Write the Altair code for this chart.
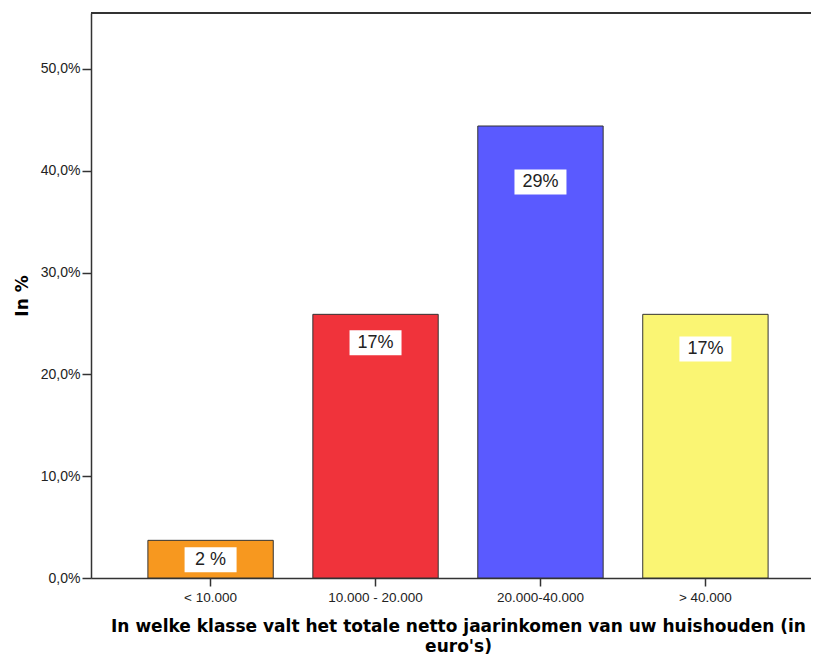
import altair as alt
import pandas as pd

categories = ["< 10.000", "10.000 - 20.000", "20.000-40.000", "> 40.000"]
values = [3.7, 25.9, 44.4, 25.9]
labels = ["2 %", "17%", "29%", "17%"]
label_y = [1.8, 23.1, 38.9, 22.5]
colors = ["#F7981F", "#F0333B", "#5A5AFF", "#FAF573"]
y_ticks = [0, 10, 20, 30, 40, 50]

df = pd.DataFrame({"cat": categories, "value": values, "label": labels, "label_y": label_y})

x_enc = alt.X(
    "cat:N",
    sort=categories,
    scale=alt.Scale(paddingInner=0.24, paddingOuter=0.345, range=[0, 734]),
    axis=alt.Axis(
        title=["In welke klasse valt het totale netto jaarinkomen van uw huishouden (in", "euro's)"],
        titleFont="DejaVu Sans", titleFontSize=17, titleFontWeight="bold", titleColor="#000",
        titleLineHeight=20, titlePadding=15, titleX=367,
        labelFont="Liberation Sans", labelFontSize=13.5, labelColor="#222", labelAngle=0,
        labelPadding=4, tickSize=8, tickColor="#333", tickWidth=1.5,
        domainColor="#333", domainWidth=1.5,
    ),
)
y_axis = alt.Axis(
    title="In %", titleFont="DejaVu Sans", titleFontSize=17, titleFontWeight="bold", titleColor="#000",
    titlePadding=9,
    values=y_ticks,
    labelExpr="replace(format(datum.value, '.1f'), '.', ',') + '%'",
    labelFont="Liberation Sans", labelFontSize=14, labelColor="#222", labelPadding=2,
    tickSize=9, tickColor="#333", tickWidth=1.5, domainColor="#333", domainWidth=1.5, grid=False,
)
y_scale = alt.Scale(domain=[0, 55.5], nice=False, zero=True)

base = alt.Chart(df)
frame_top = base.mark_rule(color="#333", strokeWidth=1.5).encode(
    y=alt.value(0), x=alt.value(0), x2=alt.value(734)
)
bars = base.mark_bar(stroke="#333", strokeWidth=1, opacity=1).encode(
    x=x_enc,
    y=alt.Y("value:Q", scale=y_scale, axis=y_axis),
    color=alt.Color("cat:N", scale=alt.Scale(domain=categories, range=colors), legend=None),
)
boxes = base.mark_point(
    shape="M-1,-0.48H1V0.48H-1Z", size=52 * 52, filled=True, fill="white", opacity=1, strokeWidth=0
).encode(x=x_enc, y=alt.Y("label_y:Q", scale=y_scale, axis=y_axis))
texts = base.mark_text(font="Liberation Sans", fontSize=18, color="#222", baseline="middle").encode(
    x=x_enc, y=alt.Y("label_y:Q", scale=y_scale, axis=y_axis), text="label:N"
)

chart = (
    alt.layer(bars, boxes, texts, frame_top)
    .properties(
        width=720, height=565,
        padding={"left": 83, "top": 5, "right": 0, "bottom": 82},
        autosize=alt.AutoSizeParams(type="none"),
    )
    .configure_view(fill="#F0F0F0", stroke=None)
    .configure(background="white")
)

chart.save("out.html", embed_options={"renderer": "svg", "actions": False})
